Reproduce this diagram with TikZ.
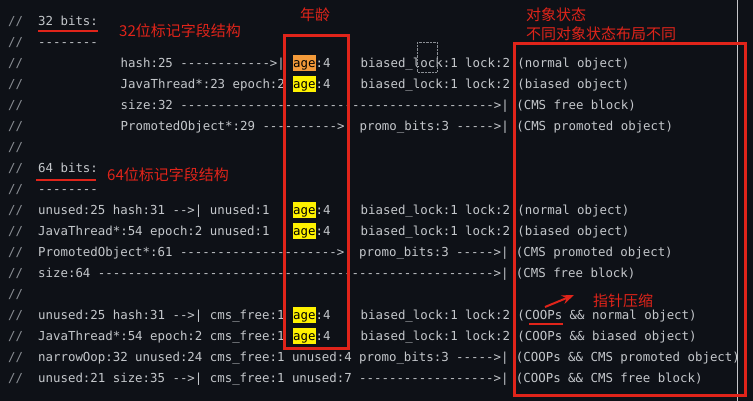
\documentclass[tikz,border=0pt]{standalone}
\usepackage{fontspec}
\setmonofont{DejaVu Sans Mono}
\newfontfamily\cjk{Noto Sans CJK SC}
\usetikzlibrary{arrows.meta}
\definecolor{bgdark}{HTML}{0E1117}
\definecolor{codegray}{HTML}{C4C7CB}
\definecolor{slashgray}{HTML}{8A8E94}
\definecolor{markred}{HTML}{E0241A}
\definecolor{ageorange}{HTML}{F39A3A}
\tikzset{
  code/.style={anchor=base west,inner sep=0pt,font=\ttfamily\fontsize{12.4}{14}\selectfont,text=codegray},
  slash/.style={code,text=slashgray},
  note/.style={anchor=west,inner sep=0pt,font=\cjk\fontsize{15}{18}\selectfont,text=markred},
  redbox/.style={draw=markred,line width=3pt},
}
% column c, row r -> position of a code piece
\newcommand\cpos[2]{({8+7.5*#1},{-21*#2-4.5})}
\newcommand\agemark[3]{%
  \fill[#3] ({8+7.5*38},{-21*#2-8}) rectangle ({8+7.5*41},{-21*#2+8});
  \node[code,text=black] (#1) at \cpos{38}{#2} {age};
  \node[code] (#1c) at \cpos{41}{#2} {:4};}

\begin{document}
\begin{tikzpicture}[x=1pt,y=1pt,>=Stealth]
  \fill[bgdark] (0,0) rectangle (753,-401);
  \useasboundingbox (0,0) rectangle (753,-401);
  \draw[slashgray!50] (737,0) -- (737,-401);

  % comment slashes
  \foreach \r in {1,...,18}
    \node[slash] (s\r) at \cpos{0}{\r} {//};

  \begin{scope}
    \clip (0,0) rectangle (745,-401);
    % 32 bits
    \node[code] (h32) at \cpos{4}{1} {32 bits:};
    \node[code] (d32) at \cpos{4}{2} {--------};
    \node[code] (l3a) at \cpos{15}{3} {hash:25 ------------>|};
    \node[code] (l3b) at \cpos{47}{3} {biased\_lock:1 lock:2 (normal object)};
    \node[code] (l4a) at \cpos{15}{4} {JavaThread*:23 epoch:2};
    \node[code] (l4b) at \cpos{47}{4} {biased\_lock:1 lock:2 (biased object)};
    \node[code] (l5) at \cpos{15}{5} {size:32 ------------------------------------------>| (CMS free block)};
    \node[code] (l6) at \cpos{15}{6} {PromotedObject*:29 ---------->| promo\_bits:3 ----->| (CMS promoted object)};
    % 64 bits
    \node[code] (h64) at \cpos{4}{8} {64 bits:};
    \node[code] (d64) at \cpos{4}{9} {--------};
    \node[code] (l10a) at \cpos{4}{10} {unused:25 hash:31 -->| unused:1};
    \node[code] (l10b) at \cpos{47}{10} {biased\_lock:1 lock:2 (normal object)};
    \node[code] (l11a) at \cpos{4}{11} {JavaThread*:54 epoch:2 unused:1};
    \node[code] (l11b) at \cpos{47}{11} {biased\_lock:1 lock:2 (biased object)};
    \node[code] (l12) at \cpos{4}{12} {PromotedObject*:61 --------------------->| promo\_bits:3 ----->| (CMS promoted object)};
    \node[code] (l13) at \cpos{4}{13} {size:64 ----------------------------------------------------->| (CMS free block)};
    \node[code] (l15a) at \cpos{4}{15} {unused:25 hash:31 -->| cms\_free:1};
    \node[code] (l15b) at \cpos{47}{15} {biased\_lock:1 lock:2 (COOPs \&\& normal object)};
    \node[code] (l16a) at \cpos{4}{16} {JavaThread*:54 epoch:2 cms\_free:1};
    \node[code] (l16b) at \cpos{47}{16} {biased\_lock:1 lock:2 (COOPs \&\& biased object)};
    \node[code] (l17) at \cpos{4}{17} {narrowOop:32 unused:24 cms\_free:1 unused:4 promo\_bits:3 ----->| (COOPs \&\& CMS promoted object)};
    \node[code] (l18) at \cpos{4}{18} {unused:21 size:35 -->| cms\_free:1 unused:7 ------------------>| (COOPs \&\& CMS free block)};
  \end{scope}

  % age fields
  \agemark{age3}{3}{ageorange}
  \agemark{age4}{4}{yellow}
  \agemark{age10}{10}{yellow}
  \agemark{age11}{11}{yellow}
  \agemark{age15}{15}{yellow}
  \agemark{age16}{16}{yellow}

  \draw[densely dotted,slashgray] (417,-42) rectangle (437,-72);

  % annotations
  \draw[redbox] (284,-36) rectangle (348,-348);
  \draw[redbox] (514,-44) rectangle (745,-395);
  \draw[markred,line width=1.5pt] (38,-31) -- (98,-31);
  \draw[markred,line width=1.5pt] (36,-180) -- (96,-180);
  \draw[markred,line width=1.5pt] (529,-324) -- (563,-324);
  \node[note] (n32) at (119,-31) {32位标记字段结构};
  \node[note] (n64) at (107,-175) {64位标记字段结构};
  \node[note] (nage) at (300,-15) {年龄};
  \node[note] (nst1) at (526,-15) {对象状态};
  \node[note] (nst2) at (526,-34) {不同对象状态布局不同};
  \node[note] (ncoop) at (593,-301) {指针压缩};
  \coordinate (arrtail) at (545,-307);
  \coordinate (arrtip) at (574,-295);
  \draw[->,markred,line width=2pt] (arrtail) -- (arrtip);
\end{tikzpicture}
\end{document}
